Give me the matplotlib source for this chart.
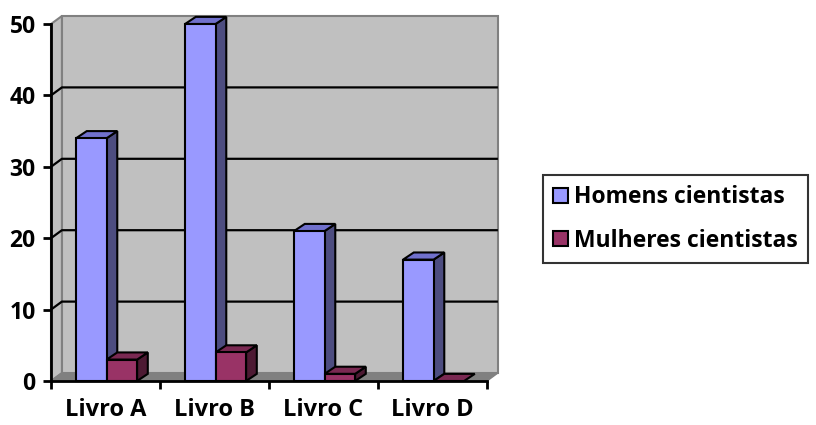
import matplotlib
matplotlib.use("Agg")
import matplotlib.pyplot as plt
from matplotlib.patches import Polygon, Patch

categories = ["Livro A", "Livro B", "Livro C", "Livro D"]
homens = [34, 50, 21, 17]
mulheres = [3, 4, 1, 0]
series_names = ["Homens cientistas", "Mulheres cientistas"]
yticks = [0, 10, 20, 30, 40, 50]

FONT = ["Open Sans", "DejaVu Sans"]
colors = {
    0: ("#9999FF", "#4D4D80", "#7070CC"),
    1: ("#993366", "#4D1A33", "#7A2952"),
}

fig = plt.figure(figsize=(8.16, 4.25), dpi=100)
W, H = 816, 425
ax = fig.add_axes([51 / W, (H - 381) / H, 436 / W, 357 / H])
ax.set_xlim(0, len(categories))
ax.set_ylim(0, 50)

# depth offsets in data units
DX, DY = 0.1, 1.12
BDX, BDY = 0.098, 1.0

ymax = 50
n = len(categories)
# back wall
ax.add_patch(Polygon([(DX, DY), (n + DX, DY), (n + DX, ymax + DY), (DX, ymax + DY)],
                     closed=True, facecolor="#C0C0C0", edgecolor="#808080", lw=1.5,
                     clip_on=False, zorder=0))
# side wall
ax.add_patch(Polygon([(0, 0), (DX, DY), (DX, ymax + DY), (0, ymax)],
                     closed=True, facecolor="#C0C0C0", edgecolor="#808080", lw=1.5,
                     clip_on=False, zorder=0))
# floor
ax.add_patch(Polygon([(0, 0), (n, 0), (n + DX, DY), (DX, DY)],
                     closed=True, facecolor="#808080", edgecolor="#808080", lw=1,
                     clip_on=False, zorder=0.5))
# gridlines
for t in yticks[1:-1]:
    ax.plot([0, DX, n + DX], [t, t + DY, t + DY], color="black", lw=1.6,
            clip_on=False, zorder=1, solid_capstyle="butt")

bw = 0.28
start = 0.23


def bar3d(x0, h, fc, sc, tc):
    x1 = x0 + bw
    front = Polygon([(x0, 0), (x1, 0), (x1, h), (x0, h)], closed=True)
    side = Polygon([(x1, 0), (x1 + BDX, BDY), (x1 + BDX, h + BDY), (x1, h)], closed=True)
    top = Polygon([(x0, h), (x1, h), (x1 + BDX, h + BDY), (x0 + BDX, h + BDY)], closed=True)
    for p, c in ((side, sc), (top, tc), (front, fc)):
        if h == 0 and p is not top:
            continue
        p.set_facecolor(c)
        p.set_edgecolor("black")
        p.set_linewidth(1.5)
        p.set_joinstyle("miter")
        p.set_clip_on(False)
        p.set_zorder(2)
        ax.add_patch(p)


for i in range(n):
    for s, vals in enumerate((homens, mulheres)):
        fc, sc, tc = colors[s]
        bar3d(i + start + s * bw, vals[i], fc, sc, tc)

for sp in ("top", "right"):
    ax.spines[sp].set_visible(False)
for sp in ("left", "bottom"):
    ax.spines[sp].set_linewidth(2)
    ax.spines[sp].set_zorder(3)
ax.patch.set_visible(False)

ax.set_yticks(yticks)
ax.set_yticklabels([str(t) for t in yticks], fontsize=16.5, fontweight="bold", family=FONT)
ax.tick_params(axis="y", length=6, width=2, pad=5)
ax.set_xticks([i + 0.5 for i in range(n)])
ax.set_xticklabels(categories, fontsize=17, fontweight="bold", family=FONT)
ax.set_xticks(list(range(n + 1)), minor=True)
ax.tick_params(axis="x", which="major", length=0, pad=12)
ax.tick_params(axis="x", which="minor", length=6, width=2)

handles = [Patch(facecolor=colors[i][0], edgecolor="black", lw=1.5) for i in range(2)]
leg = fig.legend(handles, series_names, loc="upper left",
                 bbox_to_anchor=(543 / W, 1 - 175 / H),
                 prop={"family": FONT, "weight": "bold", "size": 16.5},
                 frameon=True, fancybox=False, handlelength=0.62, handleheight=0.62,
                 handletextpad=0.28, borderpad=0.45, labelspacing=0.85, borderaxespad=0)
leg.get_frame().set_edgecolor("black")
leg.get_frame().set_linewidth(1.5)

fig.savefig("out.png", dpi=100)
